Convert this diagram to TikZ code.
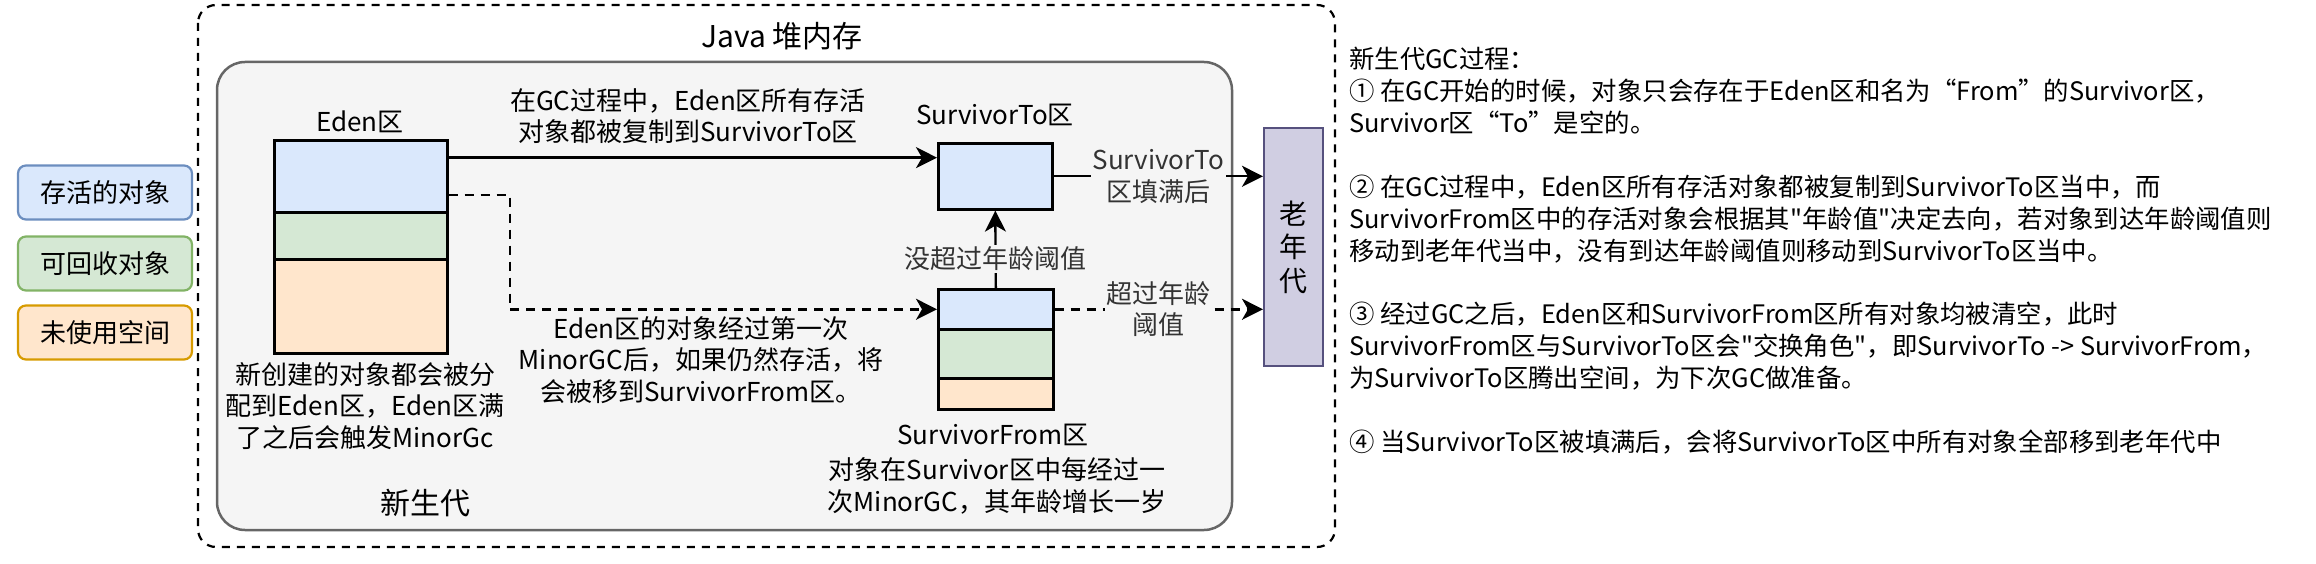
\documentclass[tikz,border=0pt]{standalone}
\usepackage{fontspec}
\setmainfont{Noto Sans CJK SC}[Ligatures=TeXOff]
\usetikzlibrary{arrows.meta,calc}
\definecolor{bluef}{HTML}{DAE8FC}
\definecolor{blued}{HTML}{6C8EBF}
\definecolor{greenf}{HTML}{D5E8D4}
\definecolor{greend}{HTML}{82B366}
\definecolor{orangef}{HTML}{FFE6CC}
\definecolor{oranged}{HTML}{D79B00}
\definecolor{purplef}{HTML}{D0CEE2}
\definecolor{purpled}{HTML}{56517E}
\definecolor{grayf}{HTML}{F5F5F5}
\definecolor{grayd}{HTML}{666666}
\definecolor{labgray}{HTML}{333333}
\begin{document}
\begin{tikzpicture}[x=1pt,y=-1pt,
  fa/.style={font=\fontsize{26}{31.5}\selectfont},
  fr/.style={font=\fontsize{25.4}{31.9}\selectfont},
  fb/.style={font=\fontsize{30}{34}\selectfont},
  legendbox/.style={draw, line width=2.2pt, rounded corners=8pt, minimum width=174pt, minimum height=54pt, inner sep=0pt, fa},
  cell/.style={draw=black, line width=2.6pt, anchor=north west, inner sep=0pt},
  arr/.style={line width=2.4pt, -{Stealth[length=21pt,width=21pt,inset=6pt]}},
  darr/.style={arr, dash pattern=on 9pt off 7pt},
  elab/.style={fa, fill=grayf, text=labgray, align=center, inner sep=2pt},
  captext/.style={fa, align=center, inner sep=0pt},
  para/.style={fr, anchor=north west, inner sep=0pt, align=left},
]
\useasboundingbox (0,0) rectangle (2316,564);

% legend
\node[legendbox, fill=bluef, draw=blued] (lgA) at (105,192.5) {存活的对象};
\node[legendbox, fill=greenf, draw=greend] (lgB) at (105,263.5) {可回收对象};
\node[legendbox, fill=orangef, draw=oranged] (lgC) at (105,332.5) {未使用空间};

% containers
\draw[line width=2.2pt, dash pattern=on 8pt off 7pt, rounded corners=18pt] (198,5) rectangle (1335,547);
\node[fb, inner sep=0pt] (title) at (782,36) {Java 堆内存};
\draw[line width=2.5pt, draw=grayd, fill=grayf, rounded corners=28pt] (217,62) rectangle (1232,530);
\node[fb, inner sep=0pt] (young) at (425,503) {新生代};

% Eden
\node[captext] (edenL) at (360,122) {Eden区};
\node[cell, fill=bluef, minimum width=173pt, minimum height=72pt] (edenB) at (273,139) {};
\node[cell, fill=greenf, minimum width=173pt, minimum height=47pt] (edenG) at (273,211) {};
\node[cell, fill=orangef, minimum width=173pt, minimum height=94pt] (edenO) at (273,258) {};
\node[captext] (edenT) at (365,406) {新创建的对象都会被分\\配到Eden区，Eden区满\\了之后会触发MinorGc};

% Survivor To
\node[captext] (toL) at (995,115) {SurvivorTo区};
\node[cell, fill=bluef, minimum width=114pt, minimum height=66pt] (toB) at (937,142) {};

% Survivor From
\node[cell, fill=bluef, minimum width=115pt, minimum height=40pt] (frB) at (937,288) {};
\node[cell, fill=greenf, minimum width=115pt, minimum height=49pt] (frG) at (937,328) {};
\node[cell, fill=orangef, minimum width=115pt, minimum height=31pt] (frO) at (937,377) {};
\node[captext] (frL) at (993,435) {SurvivorFrom区};
\node[captext] (frT) at (997,486) {对象在Survivor区中每经过一\\次MinorGC，其年龄增长一岁};

% old generation
\node[draw=purpled, fill=purplef, line width=2.4pt, anchor=north west, minimum width=59pt, minimum height=238pt, inner sep=0pt,
      font=\fontsize{28}{33.5}\selectfont, align=center] (old) at (1263,127) {老\\年\\代};

% connectors
\coordinate (e1) at ($(edenB.north east)!0.25!(edenB.south east)$);
\coordinate (e2) at ($(edenB.north east)!0.75!(edenB.south east)$);
\coordinate (bend) at (510,0);

\draw[arr] (e1) -- (e1 -| toB.west);
\node[captext] (lblA) at (688,116) {在GC过程中，Eden区所有存活\\对象都被复制到SurvivorTo区};

\draw[darr] (e2) -- (e2 -| bend) -- (bend |- frB.west) -- (frB.west);
\node[captext] (lblB) at (701,360) {Eden区的对象经过第一次\\MinorGC后，如果仍然存活，将\\会被移到SurvivorFrom区。};

\draw[arr] (frB.north) -- node[elab, pos=0.375] (lblC) {没超过年龄阈值} (toB.south);
\draw[arr] (toB.east) -- node[elab] (lblD) {SurvivorTo\\区填满后} (toB.east -| old.west);
\draw[darr] (frB.east) -- node[elab] (lblE) {超过年龄\\阈值} (frB.east -| old.west);

% explanation text
\node[para] (p0) at (1349,47) {新生代GC过程：};
\node[para] (p1) at (1349,79) {① 在GC开始的时候，对象只会存在于Eden区和名为“From”的Survivor区，\\Survivor区“To”是空的。};
\node[para] (p2) at (1349,175) {② 在GC过程中，Eden区所有存活对象都被复制到SurvivorTo区当中，而\\SurvivorFrom区中的存活对象会根据其"年龄值"决定去向，若对象到达年龄阈值则\\移动到老年代当中，没有到达年龄阈值则移动到SurvivorTo区当中。};
\node[para] (p3) at (1349,302) {③ 经过GC之后，Eden区和SurvivorFrom区所有对象均被清空，此时\\SurvivorFrom区与SurvivorTo区会"交换角色"，即SurvivorTo -> SurvivorFrom，\\为SurvivorTo区腾出空间，为下次GC做准备。};
\node[para] (p4) at (1349,430) {④ 当SurvivorTo区被填满后，会将SurvivorTo区中所有对象全部移到老年代中};
\end{tikzpicture}
\end{document}
